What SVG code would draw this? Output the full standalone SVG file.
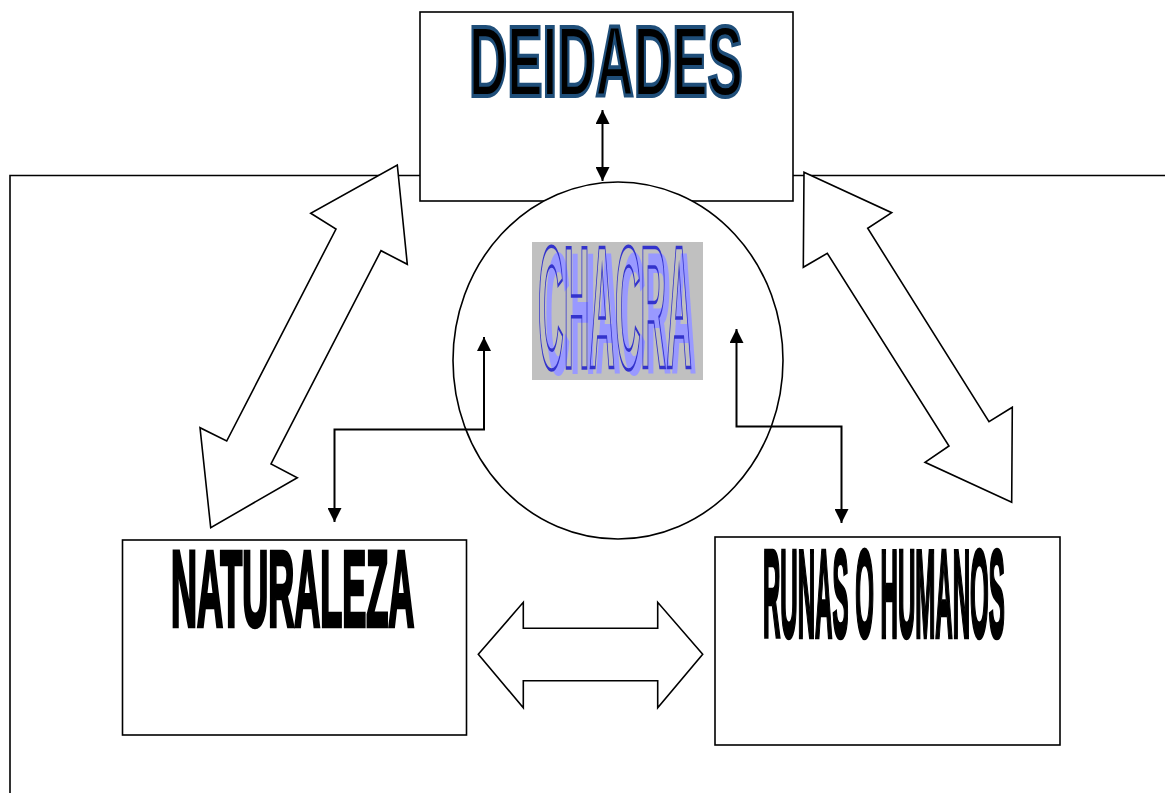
<svg xmlns="http://www.w3.org/2000/svg" width="1165" height="793" viewBox="0 0 1165 793">
<style>
.box{fill:#fff;stroke:#000;stroke-width:1.6}
.big{fill:#fff;stroke:#000;stroke-width:1.6;stroke-linejoin:miter}
.conn{fill:none;stroke:#000;stroke-width:2}
.lbl{font-family:"Liberation Sans",Arial,sans-serif;font-weight:bold}
.nss{vector-effect:non-scaling-stroke}
</style>
<defs>
<marker id="ah" viewBox="0 0 10 10" refX="10" refY="5" markerWidth="7" markerHeight="7" orient="auto-start-reverse" markerUnits="strokeWidth">
<path d="M0,0 L10,5 L0,10 Z" fill="#000"/>
</marker>
</defs>
<rect width="1165" height="793" fill="#fff"/>
<g id="frame">
<polyline points="10,793 10,175.5 420,175.5" fill="none" stroke="#000" stroke-width="1.6"/>
<line x1="793" y1="175.5" x2="1165" y2="175.5" stroke="#000" stroke-width="1.6"/>
</g>
<g id="deidades">
<rect class="box" x="420" y="12" width="373" height="189"/>
<text class="lbl nss" transform="translate(469,96) scale(0.53,1)" x="0" y="0" font-size="100" fill="#000" stroke="#1f4e79" stroke-width="3.2">DEIDADES</text>
</g>
<g id="chacra">
<ellipse cx="618" cy="360.5" rx="165" ry="178.5" fill="#fff" stroke="#000" stroke-width="1.6"/>
<rect x="532" y="242" width="171" height="138" fill="#c0c0c0"/>
<text class="lbl" transform="translate(545,374) scale(0.2,1)" x="0" y="0" font-size="175" fill="#9999ff">CHACRA</text>
<text class="lbl nss" transform="translate(538,368) scale(0.203,1)" x="0" y="0" font-size="175" fill="none" stroke="#3333cc" stroke-width="2.6">CHACRA</text>
</g>
<g id="naturaleza">
<rect class="box" x="122.5" y="540" width="344" height="195"/>
<text class="lbl nss" transform="translate(171,626) scale(0.3365,1)" x="0" y="0" font-size="107" fill="#000" stroke="#000" stroke-width="3.4">NATURALEZA</text>
</g>
<g id="runas">
<rect class="box" x="715" y="537" width="345" height="208"/>
<text class="lbl nss" transform="translate(763,637) scale(0.194,1)" x="0" y="0" font-size="124" fill="#000" stroke="#000" stroke-width="3.4">RUNAS O HUMANOS</text>
</g>
<g id="connectors">
<polygon class="big" points="397.3,165 407.3,264.3 381,250.7 271,464 297.3,477.7 210.7,527.7 200,427.7 226.7,441 336,229 310.7,213.3"/>
<polygon class="big" points="804,172.3 891.7,212.7 867.7,228.3 989,421.7 1012.3,407.3 1011.7,502.3 925,462.3 949,446 827.3,253.3 803.3,267.3"/>
<polygon class="big" points="478.3,654.3 523.3,602.3 523.3,628.3 657.7,628.3 657.7,602.3 702.7,654.3 657.7,707.7 657.7,680.7 523.3,680.7 523.3,707.7"/>
<line class="conn" x1="602.5" y1="110" x2="602.5" y2="181" marker-start="url(#ah)" marker-end="url(#ah)"/>
<polyline class="conn" points="334.5,522 334.5,429.5 484,429.5 484,337" marker-start="url(#ah)" marker-end="url(#ah)"/>
<polyline class="conn" points="736.5,329 736.5,426.5 841.5,426.5 841.5,523" marker-start="url(#ah)" marker-end="url(#ah)"/>
</g>
</svg>
